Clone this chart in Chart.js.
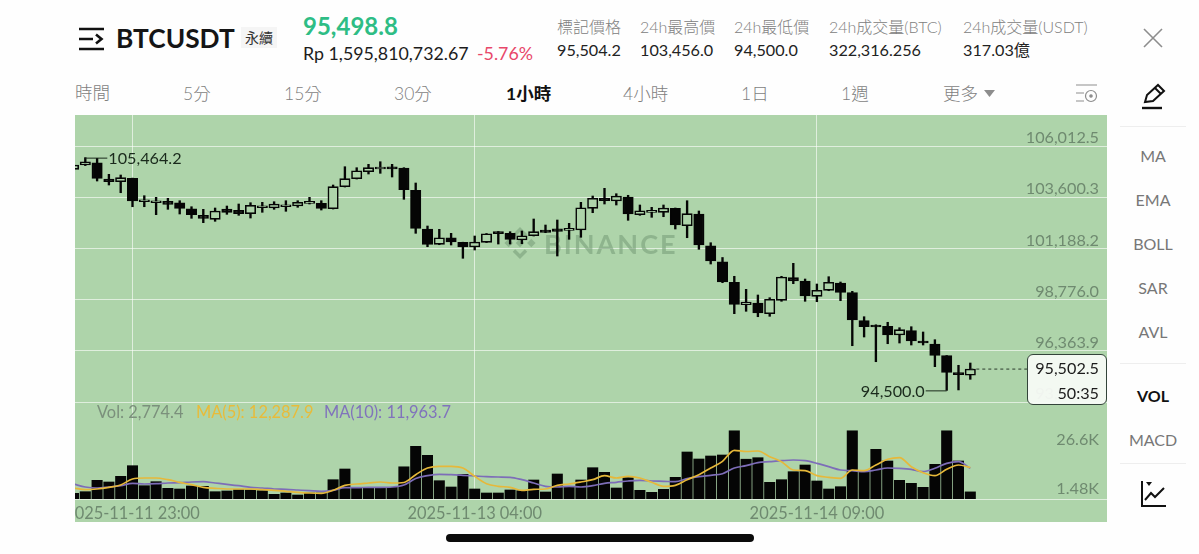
<!DOCTYPE html>
<html>
<head>
<meta charset="utf-8">
<title>BTCUSDT</title>
<script src="https://cdn.jsdelivr.net/npm/chart.js@4"></script>
<style>
html,body{margin:0;padding:0;width:1199px;height:554px;overflow:hidden;background:#fefefe;
    font-family:Lato,"Noto Sans CJK TC",sans-serif;color:#1c1c1c;}
.t{position:absolute;white-space:nowrap;line-height:1;}
.lbl{font-size:16px;color:#808080;font-weight:300;}
.val{font-size:16.2px;color:#222;}
.tab{font-size:17.5px;color:#7f7f7f;top:85px;font-weight:300;}
.side{font-size:16px;color:#777;left:1110px;width:86px;text-align:center;}
.sep{position:absolute;left:1120px;width:66px;height:1px;background:#eeeeee;}
#wrap{position:absolute;left:75px;top:115px;width:1032px;height:407px;}
#tag{position:absolute;left:1027px;top:354px;width:78px;height:49px;border:1px solid #33443a;border-radius:6px;
    background:rgba(248,251,246,.94);font-size:16.2px;text-align:right;line-height:25px;color:#1c1c1c;}
#tag div{padding-right:7px;}
</style>
</head>
<body>
<!-- header -->
<svg class="t" style="left:78px;top:27px" width="28" height="24" viewBox="0 0 28 24" fill="none" stroke="#111" stroke-width="2.6">
    <path d="M1 2H26M1 12H15M1 22H26M18 7.5L23.5 12L18 16.5"/>
</svg>
<div class="t" style="left:116px;top:25px;font-size:26.3px;font-weight:700;color:#151515">BTCUSDT</div>
<div class="t" style="left:241px;top:27px;width:36px;height:21px;line-height:21px;text-align:center;background:#f5f5f5;font-size:14px;color:#333">永續</div>
<div class="t" style="left:303px;top:14px;font-size:24px;font-weight:700;color:#2ebd85">95,498.8</div>
<div class="t" style="left:303px;top:45px;font-size:17.8px;color:#1c1c1c">Rp 1,595,810,732.67</div>
<div class="t" style="left:477px;top:45px;font-size:17.8px;color:#e8476a">-5.76%</div>

<div class="t lbl" style="left:557px;top:19px">標記價格</div>
<div class="t lbl" style="left:640px;top:19px">24h最高價</div>
<div class="t lbl" style="left:734px;top:19px">24h最低價</div>
<div class="t lbl" style="left:829px;top:19px">24h成交量(BTC)</div>
<div class="t lbl" style="left:963px;top:19px">24h成交量(USDT)</div>
<div class="t val" style="left:557px;top:42px">95,504.2</div>
<div class="t val" style="left:640px;top:42px">103,456.0</div>
<div class="t val" style="left:734px;top:42px">94,500.0</div>
<div class="t val" style="left:829px;top:42px">322,316.256</div>
<div class="t val" style="left:963px;top:42px">317.03億</div>

<svg class="t" style="left:1143px;top:28px" width="20" height="20" stroke="#8d8d8d" stroke-width="1.6"><path d="M1 1L19 19M19 1L1 19"/></svg>

<!-- interval tabs -->
<div class="t tab" style="left:75px;top:84px">時間</div>
<div class="t tab" style="left:183px">5分</div>
<div class="t tab" style="left:284px">15分</div>
<div class="t tab" style="left:394px">30分</div>
<div class="t tab" style="left:506px;color:#111;font-weight:700">1小時</div>
<div class="t tab" style="left:623px">4小時</div>
<div class="t tab" style="left:741px">1日</div>
<div class="t tab" style="left:841px">1週</div>
<div class="t tab" style="left:943px">更多</div>
<svg class="t" style="left:984px;top:90px" width="12" height="8"><path d="M0 0H11L5.5 7Z" fill="#8d8d8d"/></svg>
<svg class="t" style="left:1075px;top:84px" width="25" height="20" fill="none" stroke="#8d8d8d" stroke-width="1.2">
    <path d="M1 1H22M1 9H9M1 17H9"/><circle cx="16" cy="12" r="5.5"/><circle cx="16" cy="12" r="1.2" fill="#8d8d8d"/>
</svg>
<svg class="t" style="left:1140px;top:83px" width="28" height="27" fill="none" stroke="#111" stroke-width="2">
    <path d="M5 19L7 12L18 2L24 8L13 18Z"/><path d="M15 5L21 11"/><path d="M2 25H22" stroke-width="2.4"/>
</svg>

<!-- side menu -->
<div class="sep" style="top:126px"></div>
<div class="t side" style="top:148px">MA</div>
<div class="t side" style="top:192px">EMA</div>
<div class="t side" style="top:236px">BOLL</div>
<div class="t side" style="top:280px">SAR</div>
<div class="t side" style="top:324px">AVL</div>
<div class="sep" style="top:363px"></div>
<div class="t side" style="top:388px;color:#111;font-weight:700">VOL</div>
<div class="t side" style="top:432px">MACD</div>
<div class="sep" style="top:463px"></div>
<svg class="t" style="left:1140px;top:480px" width="28" height="28" fill="none" stroke="#111" stroke-width="2">
    <path d="M2 1V26H26"/><path d="M5 20L11 13L15 17L24 8"/><path d="M6 2H12L9 6Z" fill="#111" stroke="none"/>
</svg>

<!-- chart -->
<div id="wrap"><canvas id="chart" width="1032" height="407"></canvas></div>

<div class="t" style="left:97px;top:404px;font-size:16.4px;color:#7b907c">Vol: 2,774.4</div>
<div class="t" style="left:196px;top:404px;font-size:16.4px;color:#e8bb3a">MA(5): 12,287.9</div>
<div class="t" style="left:324px;top:404px;font-size:16.4px;color:#8073bc">MA(10): 11,963.7</div>

<div id="tag"><div>95,502.5</div><div>50:35</div></div>

<!-- home bar -->
<div style="position:absolute;left:446px;top:534px;width:308px;height:8px;border-radius:4px;background:#0b0b0b"></div>

<script>
// ------------------ DATA ------------------
const opens=[104914,105117,105225,104457,104330,104490,103385,103341,103407,103341,103058,102747,102559,103044,102983,102823,103105,103091,103152,103185,103313,103313,103058,104095,104472,104801,104928,105037,104976,103925,102102,101381,101692,101475,101254,101475,101975,101899,101584,101786,102055,102116,102041,102055,103077,103548,103421,103609,102776,102889,102889,103077,102257,102809,101315,100561,99591,98536,98616,98112,98743,99808,99652,98931,99214,99558,99101,97782,97579,97518,97108,97311,96793,96684,96133,95318,95210];
const closes=[105117,105272,104490,104330,104519,103421,103435,103388,103266,103077,102776,102606,102950,102889,102823,103218,103138,103280,103200,103360,103360,103077,104095,104472,104848,104990,104976,104928,103953,102135,101381,101692,101489,101254,101489,101880,101880,101617,101786,101975,101946,101994,102088,103105,103548,103435,103656,102809,102964,102917,103091,102290,102823,101348,100594,99605,98554,98663,98145,98790,99841,99652,98945,99214,99591,99120,97815,97499,97485,97108,97358,96826,96731,96152,95351,95238,95502.5];
const highs=[105164,105464.2,105433,104679,104646,104500,103671,103595,103548,103435,103152,103030,103091,103185,103280,103341,103360,103388,103435,103435,103595,103435,104175,105037,104990,105150,105272,105150,104990,104269,102243,102088,101899,101480,101772,101890,101985,101975,102008,102573,102290,102526,102370,103360,103656,104019,103765,103690,103233,103124,103233,103091,103435,102950,101456,100759,99874,99261,98993,98866,99874,100486,99746,99511,99855,99605,99167,97970,97590,97707,97452,97499,97250,96887,96140,95681,95789];
const lows=[104881,105090,104363,104175,103812,103152,103152,102776,103030,102809,102606,102399,102465,102794,102747,102620,102889,103030,102936,103124,103280,102997,103044,104080,104457,104693,104726,104552,103501,101899,101268,101362,101348,100722,101113,101465,101395,101395,101409,101772,101928,100830,101617,101711,102870,103280,103233,102512,102747,102653,102681,102102,101692,101145,100453,99572,98112,98225,97970,97989,98696,99525,98696,98677,99195,98724,96604,97014,95850,96698,96731,96637,96637,95615,94500,94520,95021];

const volumes=[2220,2850,7290,6630,8850,12990,5190,6750,4170,3900,5070,4950,2850,3120,3630,3510,3240,1830,2340,1560,2340,2340,7530,11700,4290,4290,4560,4560,12560,20550,17040,7140,4680,9630,3900,2340,2340,3510,3240,7410,2730,9750,4800,7410,12210,10410,4290,8310,3390,2610,3780,8460,18330,15600,16770,17160,26600,15520,16110,6510,7530,10650,13260,7020,3900,4800,26600,10650,19380,14820,7290,6120,4560,13530,26600,14820,2774.4];
const ma5=[4290,3630,3900,4560,5460,7800,8190,8190,7530,6510,5580,4560,4170,3900,3900,3900,3630,3390,3000,2610,2340,2220,3390,5340,5850,6240,6630,6240,6440,9480,12090,12750,12750,12090,8850,5970,4950,4560,3390,3780,3900,5340,5850,6630,7530,9090,8190,8850,8190,6510,4950,5340,7530,9480,12090,14700,18990,18530,18720,16500,14550,11310,11040,9090,8460,8070,11310,11040,13260,15480,16110,12600,10260,9090,11580,13260,12287.9];
const ma10=[5850,4680,4290,4680,5190,6120,5850,5970,6240,6360,6630,6750,6240,5730,5190,4560,4290,3900,3780,3510,3240,3000,3390,4410,4410,4560,4560,4680,5460,8000,9090,9630,9480,9240,8970,8700,8580,8460,7530,6240,4950,4680,4950,4680,5190,6120,6510,7020,7290,7020,6900,6750,7920,8700,9240,9870,12090,12990,14160,14550,14940,15210,14940,13920,12600,11310,11040,10650,11310,12090,11970,11580,10650,11970,13920,14550,11963.7];

const priceTicks=[106012.5,103600.3,101188.2,98776.0,96363.9,93951.7];
const priceTickLabels=["106,012.5","103,600.3","101,188.2","98,776.0","96,363.9","93,951.7"];
const volTickSpots=[3900,23010]; // where the two volume labels sit
const volTickLabels=["1.48K","26.6K"];
const timeTickIndex=[5,34,63];
const timeTickLabels=["2025-11-11 23:00","2025-11-13 04:00","2025-11-14 09:00"];

const highValue=105464.2, highIndex=1, highLabel="105,464.2";
const lowValue=94500.0, lowIndex=74, lowLabel="94,500.0";
const lastPrice=95502.5;

// ------------------ STYLE ------------------
const GREEN="#aed4aa";
const BLACK="#050505";
const AXIS_TEXT="#6f8a70";
const GRID="rgba(255,255,255,.6)";
const FONT='Lato,"Noto Sans CJK TC",sans-serif';

// ------------------ DATASETS ------------------
const idx=opens.map((_,i)=>i);
const wickData=idx.map(i=>({x:i,y:[lows[i],highs[i]]}));
const bodyData=idx.map(i=>({x:i,y:[Math.min(opens[i],closes[i]),Math.max(opens[i],closes[i])]}));
const bodyFill=idx.map(i=>closes[i]>=opens[i]?GREEN:BLACK);

// ------------------ PLUGIN ------------------
const paintPlugin={
    id:"paint",
    beforeDraw(chart){
        const ctx=chart.ctx;
        ctx.save();
        ctx.fillStyle=GREEN;
        ctx.fillRect(0,0,chart.width,chart.height);
        ctx.restore();
    },
    beforeDatasetsDraw(chart){
        // BINANCE watermark
        const ctx=chart.ctx;
        ctx.save();
        ctx.fillStyle="rgba(120,158,122,.6)";
        ctx.strokeStyle="rgba(120,158,122,.6)";
        ctx.font="700 27px "+FONT;
        ctx.letterSpacing="2px";
        ctx.textBaseline="middle";
        ctx.fillText("BINANCE",469,130);
        ctx.translate(445,128);
        ctx.rotate(Math.PI/4);
        ctx.fillRect(-3,-3,6,6);
        ctx.fillRect(-11,5,6,6);
        ctx.fillRect(5,-11,6,6);
        ctx.lineWidth=3.5;
        ctx.beginPath();
        ctx.moveTo(-9.5,-1);
        ctx.lineTo(-9.5,-9.5);
        ctx.lineTo(-1,-9.5);
        ctx.moveTo(9.5,1);
        ctx.lineTo(9.5,9.5);
        ctx.lineTo(1,9.5);
        ctx.stroke();
        ctx.restore();
    },
    afterDatasetsDraw(chart){
        // high and low markers
        const ctx=chart.ctx;
        const x=chart.scales.x, y=chart.scales.yPrice;
        ctx.save();
        ctx.strokeStyle="#1a2a1c";
        ctx.fillStyle="#1a2a1c";
        ctx.lineWidth=1;
        ctx.font="16.2px "+FONT;
        ctx.textBaseline="middle";

        const hx=x.getPixelForValue(highIndex), hy=y.getPixelForValue(highValue);
        ctx.beginPath();
        ctx.moveTo(hx,hy+.5);
        ctx.lineTo(hx+22,hy+.5);
        ctx.stroke();
        ctx.textAlign="left";
        ctx.fillText(highLabel,hx+23,hy+1);

        const lx=x.getPixelForValue(lowIndex), ly=y.getPixelForValue(lowValue);
        ctx.beginPath();
        ctx.moveTo(lx,ly+.5);
        ctx.lineTo(lx-21,ly+.5);
        ctx.stroke();
        ctx.textAlign="right";
        ctx.fillText(lowLabel,lx-22,ly+1);
        ctx.restore();
    }
};

function noPadding(scale){
    scale.paddingLeft=0;
    scale.paddingRight=0;
    scale.paddingTop=0;
    scale.paddingBottom=0;
}

// ------------------ CHART ------------------
new Chart(document.getElementById("chart").getContext("2d"),{
    type:"bar",
    plugins:[paintPlugin],
    data:{
        datasets:[
            {type:"line",label:"MA(5)",yAxisID:"yVol",order:0,data:idx.map(i=>({x:i,y:ma5[i]})),
                borderColor:"#e6b83a",borderWidth:1.7,pointRadius:0,cubicInterpolationMode:"monotone"},
            {type:"line",label:"MA(10)",yAxisID:"yVol",order:0,data:idx.map(i=>({x:i,y:ma10[i]})),
                borderColor:"#7d6db8",borderWidth:1.7,pointRadius:0,cubicInterpolationMode:"monotone"},
            {type:"line",label:"Last",yAxisID:"yPrice",order:0,data:[{x:76,y:lastPrice},{x:81,y:lastPrice}],
                borderColor:"#2a3a2c",borderWidth:1,borderDash:[3,3],pointRadius:0},
            {label:"Body",yAxisID:"yPrice",order:1,grouped:false,data:bodyData,barThickness:10.4,minBarLength:2,
                backgroundColor:bodyFill,borderColor:BLACK,borderWidth:1.6,borderSkipped:false},
            {label:"Wick",yAxisID:"yPrice",order:2,grouped:false,data:wickData,barThickness:1.7,
                backgroundColor:BLACK,borderWidth:0},
            {label:"Vol",yAxisID:"yVol",order:3,grouped:false,data:idx.map(i=>({x:i,y:volumes[i]})),barThickness:10.4,
                backgroundColor:BLACK,borderWidth:0}
        ]
    },
    options:{
        responsive:false,
        animation:false,
        layout:{padding:0},
        plugins:{legend:{display:false},tooltip:{enabled:false}},
        scales:{
            x:{
                type:"linear",
                offset:false,
                min:0.127,
                max:87.585,
                grid:{offset:false,color:GRID,lineWidth:1,drawTicks:false},
                border:{display:true,color:GRID,width:1},
                afterBuildTicks(scale){ scale.ticks=timeTickIndex.map(v=>({value:v})); },
                afterFit(scale){ noPadding(scale); scale.height=23; },
                ticks:{
                    autoSkip:false,maxRotation:0,padding:5,color:AXIS_TEXT,font:{size:16.4,family:FONT},
                    callback:(value,index)=>timeTickLabels[index]
                }
            },
            yPrice:{
                type:"linear",
                position:"right",
                min:89382,
                max:107473,
                grid:{color:GRID,lineWidth:1,drawTicks:false},
                border:{display:false},
                afterBuildTicks(scale){ scale.ticks=priceTicks.map(v=>({value:v})); },
                afterFit(scale){ noPadding(scale); scale.width=0; },
                ticks:{
                    mirror:true,autoSkip:false,padding:-8,labelOffset:-8,color:AXIS_TEXT,font:{size:16.2,family:FONT},
                    callback:(value,index)=>priceTickLabels[index]
                }
            },
            yVol:{
                type:"linear",
                position:"right",
                min:0,
                max:149760,
                grid:{display:false},
                border:{display:false},
                afterBuildTicks(scale){ scale.ticks=volTickSpots.map(v=>({value:v})); },
                afterFit(scale){ noPadding(scale); scale.width=0; },
                ticks:{
                    mirror:true,autoSkip:false,padding:-8,color:AXIS_TEXT,font:{size:16.2,family:FONT},
                    callback:(value,index)=>volTickLabels[index]
                }
            }
        }
    }
});
</script>
</body>
</html>
